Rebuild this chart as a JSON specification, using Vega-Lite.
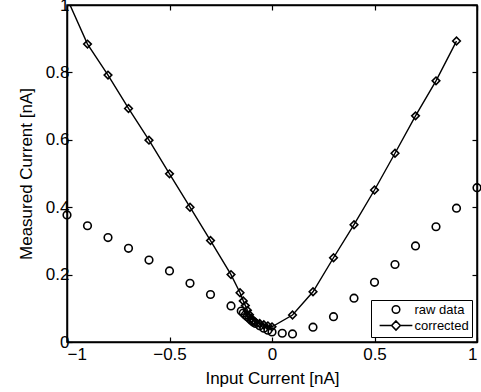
{
  "$schema": "https://vega.github.io/schema/vega-lite/v6.json",
  "autosize": {"type": "none"},
  "padding": {"left": 67, "top": 5, "right": 4, "bottom": 50},
  "width": 410,
  "height": 337,
  "config": {
    "font": "Liberation Sans",
    "view": {"stroke": "black", "strokeWidth": 1.5},
    "axis": {
      "labelFont": "Liberation Sans", "titleFont": "Liberation Sans",
      "labelFontSize": 17, "titleFontSize": 17, "titleFontWeight": "normal",
      "labelColor": "black", "titleColor": "black",
      "domainColor": "black", "domainWidth": 1.5,
      "tickColor": "black", "tickWidth": 1.2, "tickSize": -5,
      "grid": false
    },
    "legend": {"labelFont": "Liberation Sans"}
  },
  "data": {
    "values": [
      {"x": -1.0, "y": 0.377, "series": "raw data"},
      {"x": -0.9, "y": 0.345, "series": "raw data"},
      {"x": -0.8, "y": 0.31, "series": "raw data"},
      {"x": -0.7, "y": 0.278, "series": "raw data"},
      {"x": -0.6, "y": 0.243, "series": "raw data"},
      {"x": -0.5, "y": 0.211, "series": "raw data"},
      {"x": -0.4, "y": 0.174, "series": "raw data"},
      {"x": -0.3, "y": 0.141, "series": "raw data"},
      {"x": -0.2, "y": 0.107, "series": "raw data"},
      {"x": -0.15, "y": 0.092, "series": "raw data"},
      {"x": -0.14, "y": 0.086, "series": "raw data"},
      {"x": -0.13, "y": 0.08, "series": "raw data"},
      {"x": -0.12, "y": 0.075, "series": "raw data"},
      {"x": -0.11, "y": 0.07, "series": "raw data"},
      {"x": -0.1, "y": 0.064, "series": "raw data"},
      {"x": -0.09, "y": 0.059, "series": "raw data"},
      {"x": -0.08, "y": 0.055, "series": "raw data"},
      {"x": -0.06, "y": 0.048, "series": "raw data"},
      {"x": -0.04, "y": 0.041, "series": "raw data"},
      {"x": -0.02, "y": 0.035, "series": "raw data"},
      {"x": 0.0, "y": 0.03, "series": "raw data"},
      {"x": 0.05, "y": 0.026, "series": "raw data"},
      {"x": 0.1, "y": 0.024, "series": "raw data"},
      {"x": 0.2, "y": 0.044, "series": "raw data"},
      {"x": 0.3, "y": 0.075, "series": "raw data"},
      {"x": 0.4, "y": 0.13, "series": "raw data"},
      {"x": 0.5, "y": 0.177, "series": "raw data"},
      {"x": 0.6, "y": 0.23, "series": "raw data"},
      {"x": 0.7, "y": 0.285, "series": "raw data"},
      {"x": 0.8, "y": 0.342, "series": "raw data"},
      {"x": 0.9, "y": 0.397, "series": "raw data"},
      {"x": 1.0, "y": 0.458, "series": "raw data"},
      {"x": -1.0, "y": 1.02, "series": "corrected"},
      {"x": -0.9, "y": 0.884, "series": "corrected"},
      {"x": -0.8, "y": 0.792, "series": "corrected"},
      {"x": -0.7, "y": 0.693, "series": "corrected"},
      {"x": -0.6, "y": 0.599, "series": "corrected"},
      {"x": -0.5, "y": 0.499, "series": "corrected"},
      {"x": -0.4, "y": 0.4, "series": "corrected"},
      {"x": -0.3, "y": 0.301, "series": "corrected"},
      {"x": -0.2, "y": 0.2, "series": "corrected"},
      {"x": -0.156, "y": 0.146, "series": "corrected"},
      {"x": -0.14, "y": 0.122, "series": "corrected"},
      {"x": -0.13, "y": 0.108, "series": "corrected"},
      {"x": -0.12, "y": 0.094, "series": "corrected"},
      {"x": -0.11, "y": 0.081, "series": "corrected"},
      {"x": -0.1, "y": 0.07, "series": "corrected"},
      {"x": -0.09, "y": 0.063, "series": "corrected"},
      {"x": -0.08, "y": 0.059, "series": "corrected"},
      {"x": -0.06, "y": 0.055, "series": "corrected"},
      {"x": -0.04, "y": 0.051, "series": "corrected"},
      {"x": -0.02, "y": 0.048, "series": "corrected"},
      {"x": 0.0, "y": 0.045, "series": "corrected"},
      {"x": 0.1, "y": 0.08, "series": "corrected"},
      {"x": 0.2, "y": 0.149, "series": "corrected"},
      {"x": 0.3, "y": 0.25, "series": "corrected"},
      {"x": 0.4, "y": 0.348, "series": "corrected"},
      {"x": 0.5, "y": 0.451, "series": "corrected"},
      {"x": 0.6, "y": 0.56, "series": "corrected"},
      {"x": 0.7, "y": 0.671, "series": "corrected"},
      {"x": 0.8, "y": 0.775, "series": "corrected"},
      {"x": 0.9, "y": 0.893, "series": "corrected"}
    ]
  },
  "resolve": {"axis": {"x": "independent", "y": "independent"}},
  "layer": [
    {
      "transform": [{"filter": "datum.series === 'corrected'"}],
      "mark": {"type": "line", "color": "black", "strokeWidth": 1.4, "clip": true},
      "encoding": {
        "x": {"field": "x", "type": "quantitative", "scale": {"domain": [-1, 1], "nice": false, "zero": false},
              "axis": {"orient": "top", "labels": false, "title": null, "values": [-1, -0.5, 0, 0.5, 1]}},
        "y": {"field": "y", "type": "quantitative", "scale": {"domain": [0, 1], "nice": false},
              "axis": {"orient": "right", "labels": false, "title": null, "values": [0, 0.2, 0.4, 0.6, 0.8, 1]}}
      }
    },
    {
      "mark": {"type": "point", "filled": false, "strokeWidth": 1.6, "opacity": 1, "size": 58},
      "transform": [{"filter": "datum.y <= 1"}],
      "encoding": {
        "x": {"field": "x", "type": "quantitative",
              "axis": {"orient": "bottom", "title": "Input Current [nA]", "values": [-1, -0.5, 0, 0.5, 1], "format": "~g", "labelPadding": 9, "titlePadding": 8}},
        "y": {"field": "y", "type": "quantitative",
              "axis": {"orient": "left", "title": "Measured Current [nA]", "values": [0, 0.2, 0.4, 0.6, 0.8, 1], "format": "~g", "labelPadding": 3, "titlePadding": 10}},
        "shape": {"condition": {"test": "datum.series === 'raw data'", "value": "circle"}, "value": "diamond"},
        "color": {"field": "series", "type": "nominal",
                  "scale": {"domain": ["raw data", "corrected"], "range": ["black", "black"]},
                  "legend": {
                    "title": null, "orient": "bottom-right", "offset": 5,
                    "strokeColor": "black", "fillColor": "white", "padding": 3,
                    "labelFontSize": 13, "labelColor": "black", "labelOffset": 12,
                    "symbolSize": 58, "symbolStrokeWidth": 1.5,
                    "symbolOffset": 15.5, "rowPadding": 0,
                    "encoding": {"symbols": {"shape": {"value": {"expr": "datum.value === 'corrected' ? 'M-4.3,0L-1.15,0M1.15,0L4.3,0M0,-1.2L1.15,0L0,1.2L-1.15,0Z' : 'circle'"}}}}
                  }}
      }
    }
  ]
}
